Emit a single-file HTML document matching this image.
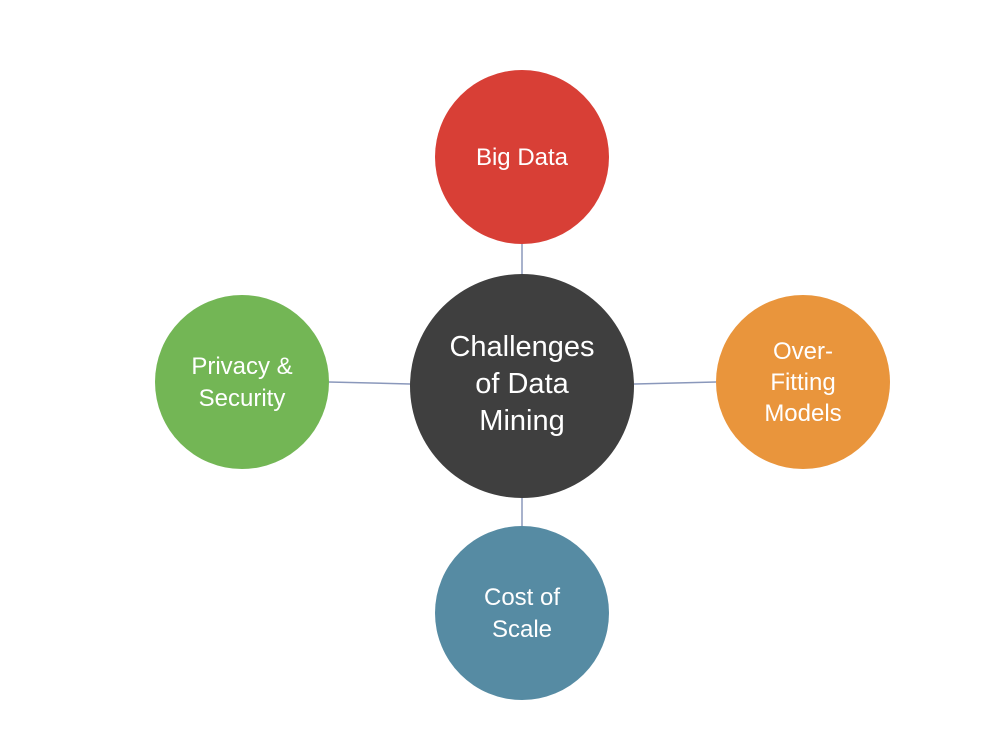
<!DOCTYPE html>
<html><head><meta charset="utf-8"><style>
html,body{margin:0;padding:0;background:#fff;}
svg{display:block;}
text{font-family:"Liberation Sans",sans-serif;fill:#fff;text-anchor:middle;}
</style></head><body>
<svg width="1008" height="732" viewBox="0 0 1008 732">
<g stroke="#8a98bb" stroke-width="1.5">
<line x1="522" y1="244" x2="522" y2="274"/>
<line x1="522" y1="498" x2="522" y2="526"/>
<line x1="329" y1="382" x2="410" y2="384"/>
<line x1="634" y1="384" x2="716" y2="382"/>
</g>
<circle cx="522" cy="386" r="112" fill="#3f3f3f"/>
<circle cx="522" cy="157" r="87" fill="#d83f36"/>
<circle cx="242" cy="382" r="87" fill="#73b655"/>
<circle cx="803" cy="382" r="87" fill="#e9953c"/>
<circle cx="522" cy="613" r="87" fill="#568ba3"/>
<text x="522" y="356" font-size="29">Challenges</text>
<text x="522" y="393" font-size="29">of Data</text>
<text x="522" y="430" font-size="29">Mining</text>
<text x="522" y="165" font-size="24">Big Data</text>
<text x="242" y="374" font-size="24">Privacy &amp;</text>
<text x="242" y="406" font-size="24">Security</text>
<text x="803" y="359" font-size="24">Over-</text>
<text x="803" y="390" font-size="24">Fitting</text>
<text x="803" y="421" font-size="24">Models</text>
<text x="522" y="605" font-size="24">Cost of</text>
<text x="522" y="637" font-size="24">Scale</text>
</svg>
</body></html>
